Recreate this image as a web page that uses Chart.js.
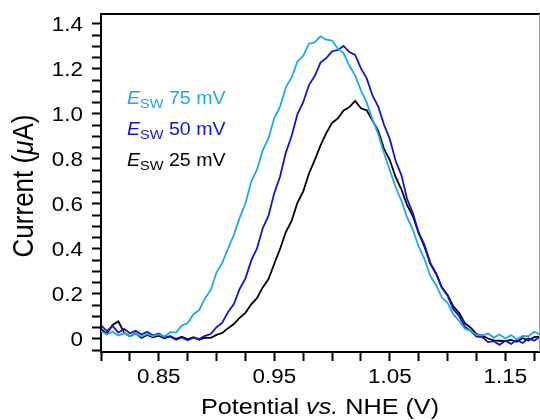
<!DOCTYPE html>
<html>
<head>
<meta charset="utf-8">
<script src="https://cdn.jsdelivr.net/npm/chart.js@4"></script>
<style>
  html, body { margin: 0; padding: 0; background: #fff; }
  canvas { display: block; }
</style>
</head>
<body>
<canvas id="myChart" width="540" height="420"></canvas>
<script>
// potential (V vs. NHE)
const potential = [
  0.800, 0.805, 0.810, 0.815, 0.820, 0.825, 0.830, 0.835, 0.840, 0.845, 0.850,
  0.855, 0.860, 0.865, 0.870, 0.875, 0.880, 0.885, 0.890, 0.895, 0.900, 0.905,
  0.910, 0.915, 0.920, 0.925, 0.930, 0.935, 0.940, 0.945, 0.950, 0.955, 0.960,
  0.965, 0.970, 0.975, 0.980, 0.985, 0.990, 0.995, 1.000, 1.005, 1.010, 1.015,
  1.020, 1.025, 1.030, 1.035, 1.040, 1.045, 1.050, 1.055, 1.060, 1.065, 1.070,
  1.075, 1.080, 1.085, 1.090, 1.095, 1.100, 1.105, 1.110, 1.115, 1.120, 1.125,
  1.130, 1.135, 1.140, 1.145, 1.150, 1.155, 1.160, 1.165, 1.170, 1.175, 1.180,
];

// current (uA), one list per square-wave amplitude
const current75 = [
  0.035, 0.020, 0.032, 0.015, 0.026, 0.012, 0.024, 0.010, 0.022, 0.012, 0.020,
  0.010, 0.030, 0.028, 0.060, 0.070, 0.110, 0.128, 0.180, 0.218, 0.295, 0.338,
  0.402, 0.462, 0.538, 0.602, 0.698, 0.752, 0.838, 0.892, 0.982, 1.032, 1.118,
  1.162, 1.232, 1.258, 1.312, 1.318, 1.345, 1.330, 1.326, 1.290, 1.270, 1.215,
  1.170, 1.105, 1.050, 0.975, 0.910, 0.825, 0.750, 0.675, 0.615, 0.540, 0.485,
  0.410, 0.355, 0.280, 0.240, 0.185, 0.160, 0.110, 0.080, 0.045, 0.036, 0.018,
  0.016, 0.024, 0.006, 0.020, 0.002, 0.017, -0.002, 0.014, 0.012, 0.032, 0.020,
];
const current50 = [
  0.062, 0.035, 0.058, 0.028, 0.045, 0.025, 0.036, 0.020, 0.032, 0.015, 0.024,
  0.010, 0.010, -0.004, 0.007, -0.006, 0.006, 0.000, 0.014, 0.022, 0.052, 0.072,
  0.120, 0.155, 0.222, 0.268, 0.348, 0.402, 0.492, 0.548, 0.648, 0.722, 0.828,
  0.902, 0.998, 1.052, 1.128, 1.168, 1.228, 1.248, 1.278, 1.284, 1.302, 1.275,
  1.262, 1.202, 1.158, 1.082, 1.032, 0.952, 0.888, 0.792, 0.728, 0.622, 0.558,
  0.472, 0.418, 0.338, 0.292, 0.228, 0.192, 0.132, 0.102, 0.054, 0.036, 0.010,
  0.008, -0.014, -0.010, -0.026, -0.008, -0.022, -0.004, -0.018, 0.003, -0.008, 0.010,
];
const current25 = [
  0.045, 0.022, 0.062, 0.078, 0.028, 0.012, 0.025, 0.005, 0.018, 0.007, 0.015,
  0.003, 0.012, 0.000, 0.010, -0.002, 0.008, -0.004, 0.006, 0.005, 0.018, 0.027,
  0.048, 0.066, 0.094, 0.116, 0.154, 0.181, 0.229, 0.266, 0.334, 0.400, 0.475,
  0.525, 0.605, 0.655, 0.735, 0.795, 0.860, 0.915, 0.960, 0.980, 1.015, 1.030,
  1.058, 1.025, 1.016, 0.970, 0.925, 0.845, 0.795, 0.720, 0.665, 0.595, 0.545,
  0.470, 0.410, 0.335, 0.290, 0.230, 0.195, 0.145, 0.115, 0.070, 0.050, 0.022,
  0.015, 0.002, -0.006, -0.008, -0.010, -0.004, -0.013, 0.004, -0.007, 0.008, 0.010,
];

const seriesNames = ['75 mV', '50 mV', '25 mV'];

const xTickValues = [
  0.800, 0.825, 0.850, 0.875, 0.900, 0.925, 0.950, 0.975,
  1.000, 1.025, 1.050, 1.075, 1.100, 1.125, 1.150, 1.175,
];
const xLabelValues = [0.85, 0.95, 1.05, 1.15];
const xTickLabels = ['0.85', '0.95', '1.05', '1.15'];

const yTickValues = [
  -0.05, 0, 0.05, 0.1, 0.15, 0.2, 0.25, 0.3, 0.35, 0.4, 0.45, 0.5, 0.55, 0.6,
  0.65, 0.7, 0.75, 0.8, 0.85, 0.9, 0.95, 1.0, 1.05, 1.1, 1.15, 1.2, 1.25, 1.3,
  1.35, 1.4,
];
const yLabelValues = [0, 0.2, 0.4, 0.6, 0.8, 1.0, 1.2, 1.4];
const yTickLabels = ['0', '0.2', '0.4', '0.6', '0.8', '1.0', '1.2', '1.4'];

const colors = ['#1ea8e4', '#1414cc', '#000000'];
const FONT = '"Liberation Sans", Arial, Helvetica, sans-serif';
const SX = 1.12; // the source figure is stretched a bit horizontally

const toPoints = (ys) => potential.map((x, i) => ({ x, y: ys[i] }));

// draws a run of differently styled pieces of text as one line
const drawRuns = (ctx, runs, x, y, align, rotate) => {
  ctx.save();
  ctx.translate(x, y);
  ctx.scale(SX, 1);
  if (rotate) ctx.rotate(-Math.PI / 2);
  let w = 0;
  for (const r of runs) {
    ctx.font = r.font;
    w += ctx.measureText(r.text).width;
  }
  let cx = align === 'center' ? -w / 2 : align === 'right' ? -w : 0;
  ctx.textAlign = 'left';
  ctx.textBaseline = 'alphabetic';
  for (const r of runs) {
    ctx.font = r.font;
    ctx.fillStyle = r.color || '#000';
    ctx.fillText(r.text, cx, r.dy || 0);
    cx += ctx.measureText(r.text).width;
  }
  ctx.restore();
};

const frameAndText = {
  id: 'frameAndText',
  afterDraw(chart) {
    const { ctx, chartArea, scales } = chart;
    const { left, right, top } = chartArea;

    ctx.save();
    ctx.strokeStyle = '#000';
    ctx.lineWidth = 2;
    ctx.beginPath();
    ctx.moveTo(left - 1, top);
    ctx.lineTo(right, top);
    ctx.stroke();
    ctx.strokeStyle = '#999';
    ctx.lineWidth = 1;
    ctx.beginPath();
    ctx.moveTo(right - 0.5, top);
    ctx.lineTo(right - 0.5, chartArea.bottom);
    ctx.stroke();
    ctx.restore();

    xLabelValues.forEach((v, i) => {
      const px = scales.x.getPixelForValue(v);
      drawRuns(ctx, [{ text: xTickLabels[i], font: `20px ${FONT}` }], px, 383, 'center');
    });
    yLabelValues.forEach((v, i) => {
      const py = scales.y.getPixelForValue(v);
      drawRuns(ctx, [{ text: yTickLabels[i], font: `20px ${FONT}` }], 83, py + 7, 'right');
    });

    drawRuns(ctx, [
      { text: 'Potential ', font: `22.5px ${FONT}` },
      { text: 'vs.', font: `italic 22.5px ${FONT}` },
      { text: ' NHE (V)', font: `22.5px ${FONT}` },
    ], 320, 414, 'center');

    drawRuns(ctx, [
      { text: 'Current (', font: `26px ${FONT}` },
      { text: 'μ', font: `italic 26px ${FONT}` },
      { text: 'A)', font: `26px ${FONT}` },
    ], 33, 186, 'center', true);

    seriesNames.forEach((name, i) => {
      drawRuns(ctx, [
        { text: 'E', font: `italic 17.5px ${FONT}`, color: colors[i] },
        { text: 'SW', font: `13px ${FONT}`, color: colors[i], dy: 4 },
        { text: ` ${name}`, font: `17.5px ${FONT}`, color: colors[i] },
      ], 127, 104 + i * 31, 'left');
    });
  },
};

new Chart(document.getElementById('myChart'), {
  type: 'line',
  data: {
    datasets: [
      { label: seriesNames[0], data: toPoints(current75), borderColor: colors[0] },
      { label: seriesNames[1], data: toPoints(current50), borderColor: colors[1] },
      { label: seriesNames[2], data: toPoints(current25), borderColor: colors[2] },
    ],
  },
  options: {
    responsive: false,
    animation: false,
    devicePixelRatio: 1,
    layout: { padding: { top: 14, right: 0, left: 0, bottom: 0 } },
    elements: {
      point: { radius: 0 },
      line: { borderWidth: 1.8, tension: 0 },
    },
    plugins: {
      legend: { display: false },
      tooltip: { enabled: false },
    },
    scales: {
      x: {
        type: 'linear',
        min: 0.8,
        max: 1.18,
        afterBuildTicks: (axis) => {
          axis.ticks = xTickValues.map((value) => ({ value }));
        },
        afterFit: (axis) => {
          axis.height = 68;
        },
        ticks: { display: false },
        grid: {
          drawOnChartArea: false,
          drawTicks: true,
          tickLength: 9,
          tickWidth: 2,
          tickColor: '#000',
        },
        border: { display: true, color: '#000', width: 2 },
      },
      y: {
        min: -0.058,
        max: 1.444,
        afterBuildTicks: (axis) => {
          axis.ticks = yTickValues.map((value) => ({ value }));
        },
        afterFit: (axis) => {
          axis.width = 101;
        },
        ticks: { display: false },
        grid: {
          drawOnChartArea: false,
          drawTicks: true,
          tickLength: 9,
          tickWidth: 2,
          tickColor: '#000',
        },
        border: { display: true, color: '#000', width: 2 },
      },
    },
  },
  plugins: [frameAndText],
});
</script>
</body>
</html>
